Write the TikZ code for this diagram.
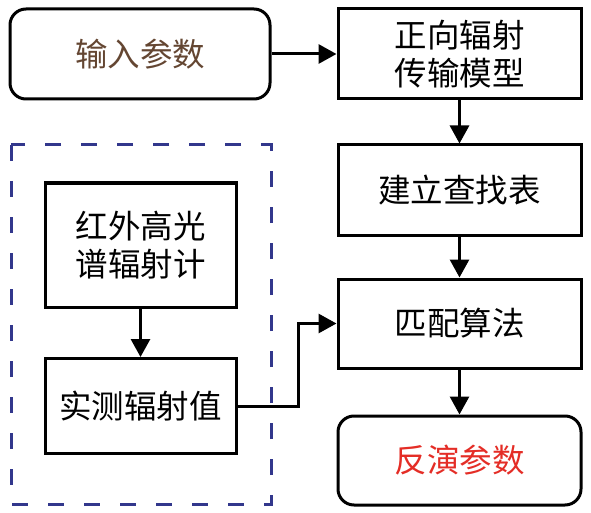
\documentclass[tikz,border=0pt]{standalone}
\usepackage{fontspec}
\newfontfamily\cjk{Noto Sans CJK SC}
\usetikzlibrary{arrows.meta}
\definecolor{txtbrown}{RGB}{100,70,50}
\definecolor{txtred}{RGB}{228,45,38}
\definecolor{dashblue}{RGB}{50,55,140}
\begin{document}
\begin{tikzpicture}[x=1pt,y=-1pt,
  box/.style={draw=black,line width=3pt,inner sep=0pt,align=center,
    font=\cjk\fontsize{32.5}{38}\selectfont},
  rbox/.style={box,rounded corners=16pt},
  arr/.style={draw=black,line width=3pt,-{Triangle[length=18pt,width=19pt]}},
  dashbox/.style={draw=dashblue,line width=3pt,dash pattern=on 16pt off 20pt}]
\useasboundingbox (0,0) rectangle (591,513);
\node[rbox,minimum width=260pt,minimum height=90pt,text=txtbrown] (in) at (140,54) {输入参数};
\node[box,minimum width=243pt,minimum height=90pt] (zx) at (459.5,54) {正向辐射\\传输模型};
\node[box,minimum width=243pt,minimum height=90pt] (jl) at (459.5,190) {建立查找表};
\node[box,minimum width=243pt,minimum height=89pt] (pp) at (459.5,323.5) {匹配算法};
\node[rbox,minimum width=243pt,minimum height=89pt,text=txtred] (fy) at (459.5,460.5) {反演参数};
\node[box,minimum width=191pt,minimum height=124pt] (hw) at (140.5,245) {红外高光\\谱辐射计};
\node[box,minimum width=191pt,minimum height=95pt] (sc) at (140.5,406) {实测辐射值};
\draw[dashbox] (11,145) rectangle (271,504);
\coordinate (k) at (298,0);
\draw[arr] (in.east) -- (zx.west);
\draw[arr] (zx.south) -- (jl.north);
\draw[arr] (jl.south) -- (pp.north);
\draw[arr] (pp.south) -- (fy.north);
\draw[arr] (hw.south) -- (sc.north);
\draw[arr] (sc.east) -- (sc.east -| k) |- (pp.west);
\end{tikzpicture}
\end{document}
